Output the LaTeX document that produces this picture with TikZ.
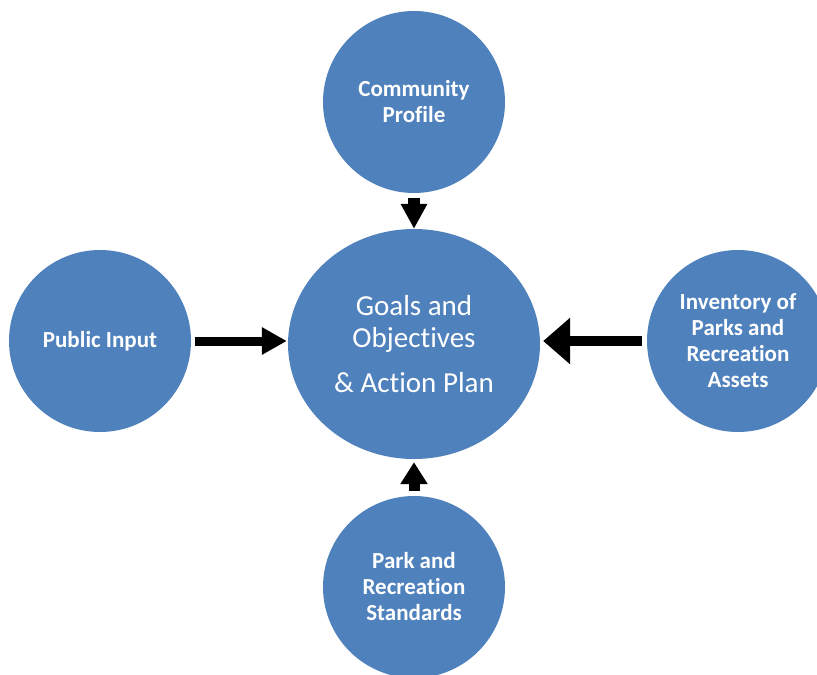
\documentclass[tikz,border=0pt]{standalone}
\usepackage{fontspec}
\setmainfont[Ligatures=NoCommon]{Carlito}
\usetikzlibrary{shapes.geometric,arrows.meta}
\definecolor{nodeblue}{HTML}{4F81BD}
\begin{document}
\begin{tikzpicture}[x=1pt,y=-1pt,
  bubble/.style={circle, fill=nodeblue, text=white, minimum size=182pt, inner sep=0pt, align=center, font=\fontsize{23}{26}\selectfont\bfseries},
  hub/.style={ellipse, fill=nodeblue, text=white, minimum width=252pt, minimum height=230pt, inner sep=0pt, align=center, font=\fontsize{29}{32}\selectfont},
  link/.style={draw=black}]
\clip (0,0) rectangle (817,675);
\node[hub] (center) at (414,344) {Goals and\\Objectives\\[13pt]\& Action Plan};
\node[bubble] (top) at (414,102) {Community\\Profile};
\node[bubble] (left) at (100,341) {Public Input};
\node[bubble] (right) at (738,341) {Inventory of\\Parks and\\Recreation\\Assets};
\node[bubble] (bottom) at (414,587) {Park and\\Recreation\\Standards};
\draw[link, line width=12pt, -{Triangle[length=25pt,width=25pt]}, shorten <=5pt] (top.south) -- (center.north);
\draw[link, line width=11pt, -{Triangle[length=22pt,width=26pt]}, shorten <=5pt, shorten >=3pt] (bottom.north) -- (center.south);
\draw[link, line width=9pt, -{Triangle[length=25pt,width=26pt]}, shorten <=4pt, shorten >=1pt] (left.east) -- (left.east -| center.west);
\draw[link, line width=10pt, -{Triangle[length=27pt,width=45pt]}, shorten <=5pt, shorten >=3pt] (right.west) -- (right.west -| center.east);
\end{tikzpicture}
\end{document}
